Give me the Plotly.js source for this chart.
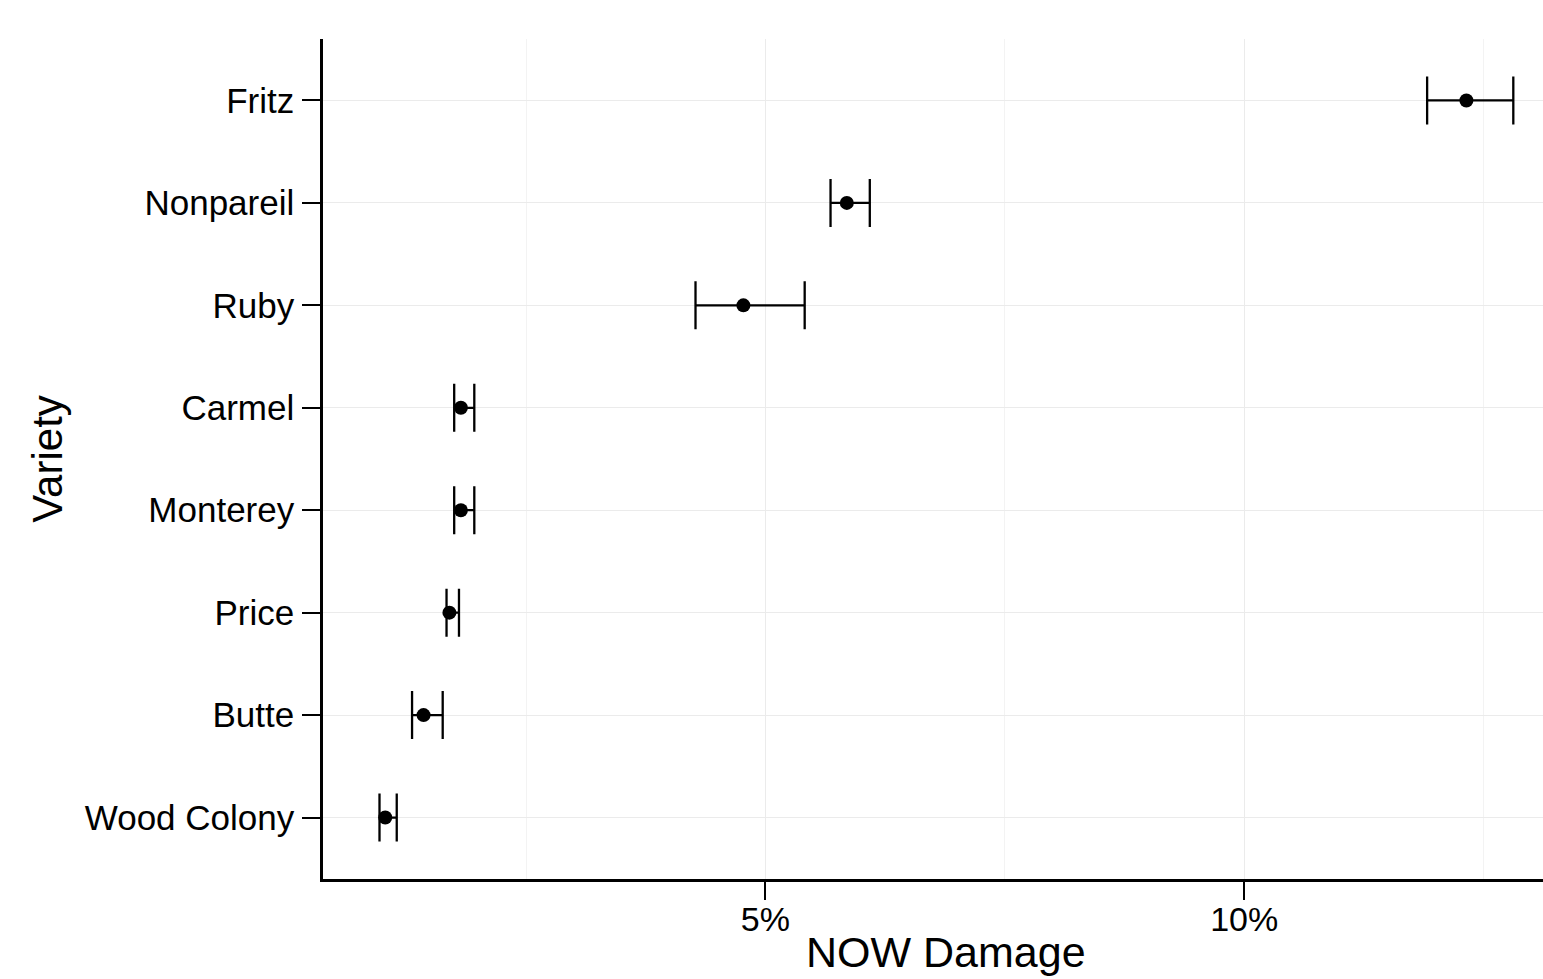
<!DOCTYPE html>
<html>
<head>
<meta charset="utf-8">
<script src="https://cdn.plot.ly/plotly-3.0.1.min.js"></script>
<style>
  html, body { margin: 0; padding: 0; background: #ffffff; }
  #chart { width: 1543px; height: 979px; }
</style>
</head>
<body>
<div id="chart"></div>
<script>
// Data (top to bottom)
const varieties = ["Fritz", "Nonpareil", "Ruby", "Carmel", "Monterey", "Price", "Butte", "Wood Colony"];
const damage    = [12.32, 5.85, 4.77, 1.82, 1.82, 1.70, 1.43, 1.03];
const lowerCI   = [11.91, 5.68, 4.27, 1.75, 1.75, 1.67, 1.31, 0.97];
const upperCI   = [12.81, 6.09, 5.41, 1.96, 1.96, 1.80, 1.63, 1.15];
const xTickVals = [5, 10];
const xTickText = ["5%", "10%"];
const xTitle = "NOW Damage";
const yTitle = "Variety";

const errPlus  = upperCI.map((u, i) => u - damage[i]);
const errMinus = damage.map((d, i) => d - lowerCI[i]);

const font = "'Liberation Sans', Arial, Helvetica, sans-serif";

const trace = {
  type: "scatter",
  mode: "markers",
  x: damage,
  y: varieties,
  marker: { color: "#000000", size: 14 },
  error_x: {
    type: "data",
    symmetric: false,
    array: errPlus,
    arrayminus: errMinus,
    color: "#000000",
    thickness: 2.3,
    width: 24
  },
  hoverinfo: "x+y",
  showlegend: false
};

const layout = {
  width: 1543,
  height: 979,
  paper_bgcolor: "#ffffff",
  plot_bgcolor: "#ffffff",
  margin: { l: 323, r: 0, t: 39, b: 100 },
  font: { family: font, color: "#000000" },
  xaxis: {
    range: [0.38, 13.12],
    tickvals: xTickVals,
    ticktext: xTickText,
    ticks: "outside",
    ticklen: 18,
    tickwidth: 2,
    tickcolor: "#000000",
    tickfont: { size: 34, family: font, color: "#000000" },
    ticklabelstandoff: -10,
    showline: true,
    linecolor: "#000000",
    linewidth: 2.5,
    showgrid: true,
    gridcolor: "#ebebeb",
    gridwidth: 1,
    minor: { tickvals: [2.5, 7.5, 12.5], showgrid: true, gridcolor: "#f3f3f3", gridwidth: 1, ticks: "" },
    zeroline: false,
    automargin: false
  },
  yaxis: {
    type: "category",
    categoryorder: "array",
    categoryarray: varieties,
    range: [7.6, -0.6],
    ticks: "outside",
    ticklen: 18,
    tickwidth: 2,
    tickcolor: "#000000",
    tickfont: { size: 35, family: font, color: "#000000" },
    ticklabelstandoff: 1,
    showline: true,
    linecolor: "#000000",
    linewidth: 2.5,
    showgrid: true,
    gridcolor: "#ebebeb",
    gridwidth: 1,
    zeroline: false,
    automargin: false,
    title: { text: yTitle, font: { size: 42, family: font, color: "#000000" }, standoff: 10 }
  },
  annotations: [{
    text: xTitle,
    xref: "paper", yref: "paper",
    x: 0.5107, y: -0.0875,
    xanchor: "center", yanchor: "middle",
    showarrow: false,
    font: { size: 43, family: font, color: "#000000" }
  }]
};

Plotly.newPlot("chart", [trace], layout, { displayModeBar: false });
</script>
</body>
</html>
